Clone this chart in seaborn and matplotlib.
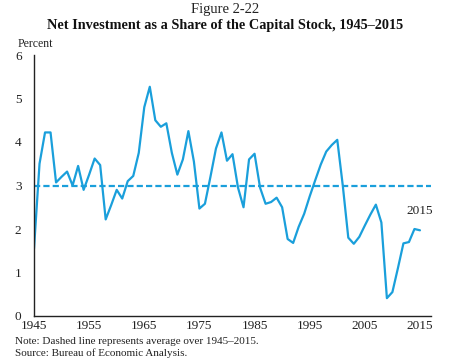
import numpy as np
import pandas as pd
import matplotlib
matplotlib.use("Agg")
import matplotlib.pyplot as plt
import seaborn as sns

# Net investment as a share of the capital stock (percent)
years = list(range(1945, 2016))
values = [
    1.55, 3.50, 4.22, 4.22, 3.07, 3.20, 3.32, 3.00, 3.45, 2.90,  # 1945-1954
    3.25, 3.62, 3.47, 2.22, 2.55, 2.90, 2.70, 3.10, 3.22, 3.75,  # 1955-1964
    4.80, 5.27, 4.50, 4.35, 4.43, 3.75, 3.25, 3.60, 4.25, 3.55,  # 1965-1974
    2.47, 2.58, 3.20, 3.85, 4.22, 3.57, 3.72, 2.95, 2.50, 3.60,  # 1975-1984
    3.73, 2.95, 2.58, 2.62, 2.72, 2.50, 1.77, 1.68, 2.05, 2.35,  # 1985-1994
    2.75, 3.12, 3.48, 3.78, 3.93, 4.05, 3.00, 1.80, 1.66, 1.82,  # 1995-2004
    2.08, 2.33, 2.56, 2.15, 0.41, 0.55, 1.10, 1.67, 1.70, 2.00,  # 2005-2014
    1.97,                                                        # 2015
]
avg_value = 2.98
x_ticks = [1945, 1955, 1965, 1975, 1985, 1995, 2005, 2015]
y_ticks = [0, 1, 2, 3, 4, 5, 6]

line_color = "#1a9fdb"

sns.set_style("white")
plt.rcParams["font.family"] = ["Liberation Serif", "DejaVu Serif"]

df = pd.DataFrame({"Year": years, "Percent": values})

fig = plt.figure(figsize=(4.5, 3.63), dpi=100)
ax = fig.add_axes([34 / 450, 1 - 316 / 363, (431 - 34) / 450, (316 - 55) / 363])

sns.lineplot(data=df, x="Year", y="Percent", ax=ax, color=line_color, linewidth=1.6)
ax.axhline(avg_value, color=line_color, linewidth=1.6, linestyle=(0, (2.8, 1.4)))

ax.set_xlim(1945, 2017)
ax.set_ylim(0, 6)
ax.set_xticks(x_ticks)
ax.set_yticks(y_ticks)
ax.set_xlabel("")
ax.set_ylabel("")
sns.despine(ax=ax)
for s in ["left", "bottom"]:
    ax.spines[s].set_color("#222222")
    ax.spines[s].set_linewidth(1.0)
ax.tick_params(axis="y", direction="out", length=3, width=0.8, labelsize=9.5, pad=6, colors="#222222")
ax.tick_params(axis="x", direction="in", length=3, width=0.8, labelsize=9.5, pad=3, colors="#222222")

ax.text(2012.6, 2.35, "2015", fontsize=9.5, color="#222222")

fig.text(0.5, 1 - 10 / 363, "Figure 2-22", ha="center", va="center", fontsize=10.5, color="#222222")
fig.text(0.5, 1 - 25 / 363, "Net Investment as a Share of the Capital Stock, 1945\u20132015",
         ha="center", va="center", fontsize=10.3, fontweight="bold", color="#111111")
fig.text(18 / 450, 1 - 44 / 363, "Percent", ha="left", va="center", fontsize=8.5, color="#222222")
fig.text(15 / 450, 1 - 341 / 363, "Note: Dashed line represents average over 1945\u20132015.",
         ha="left", va="center", fontsize=8, color="#222222")
fig.text(15 / 450, 1 - 353 / 363, "Source: Bureau of Economic Analysis.",
         ha="left", va="center", fontsize=8, color="#222222")

fig.savefig("out.png", dpi=100)
